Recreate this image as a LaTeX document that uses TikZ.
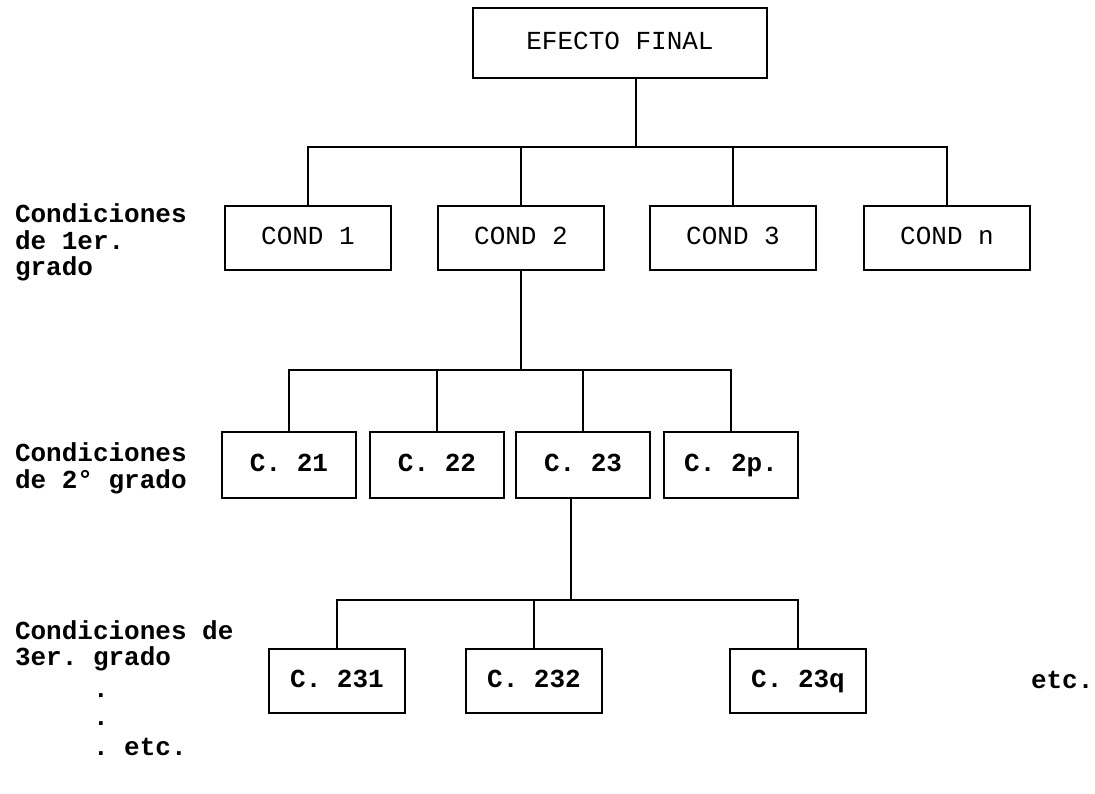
\documentclass[tikz,border=0pt]{standalone}
\usepackage{fontspec}
\setmonofont{Liberation Mono}
\begin{document}
\begin{tikzpicture}[x=0.75pt,y=-0.75pt,
  line width=1.5pt,
  tt/.style={font=\ttfamily\fontsize{19.5}{23}\selectfont},
  ttb/.style={font=\ttfamily\bfseries\fontsize{19.5}{23}\selectfont},
  box/.style={draw, line width=1.5pt, inner sep=0pt, align=center, text height=11pt, text depth=1.5pt},
  topbox/.style={box, tt, minimum width=221pt, minimum height=52.5pt},
  lvone/.style={box, tt, minimum width=124.5pt, minimum height=48pt},
  lvtwo/.style={box, ttb, minimum width=101pt, minimum height=49.5pt},
  lvthree/.style={box, ttb, minimum width=102pt, minimum height=48pt},
  lbl/.style={ttb, inner sep=0pt, anchor=base west}
]
\useasboundingbox (0,0) rectangle (1095,793);

% top
\node[topbox] (ef) at (620,43) {EFECTO FINAL};

% level 1
\node[lvone] (c1) at (308,238) {COND 1};
\node[lvone] (c2) at (521,238) {COND 2};
\node[lvone] (c3) at (733,238) {COND 3};
\node[lvone] (cn) at (947,238) {COND n};

\coordinate (j1) at (636,147);
\draw (j1 |- ef.south) -- (j1);
\draw (c1.north) |- (j1) -| (cn.north);
\draw (c2.north) -- (c2.north |- j1);
\draw (c3.north) -- (c3.north |- j1);

% level 2
\node[lvtwo] (d1) at (289,465) {C. 21};
\node[lvtwo] (d2) at (437,465) {C. 22};
\node[lvtwo] (d3) at (583,465) {C. 23};
\node[lvtwo] (dp) at (731,465) {C. 2p.};

\coordinate (j2) at (521,370);
\draw (c2.south) -- (j2);
\draw (d1.north) |- (j2) -| (dp.north);
\draw (d2.north) -- (d2.north |- j2);
\draw (d3.north) -- (d3.north |- j2);

% level 3
\node[lvthree] (e1) at (337,681) {C. 231};
\node[lvthree] (e2) at (534,681) {C. 232};
\node[lvthree] (eq) at (798,681) {C. 23q};

\coordinate (j3) at (571,600);
\draw (j3 |- d3.south) -- (j3);
\draw (e1.north) |- (j3) -| (eq.north);
\draw (e2.north) -- (e2.north |- j3);

\node[lbl] (etcr) at (1030,688) {etc.};

% left labels
\node[lbl] (l1a) at (14,222) {Condiciones};
\node[lbl] (l1b) at (14,249) {de 1er.};
\node[lbl] (l1c) at (14,275) {grado};

\node[lbl] (l2a) at (14,461) {Condiciones};
\node[lbl] (l2b) at (14,488) {de 2° grado};

\node[lbl] (l3a) at (14,639) {Condiciones de};
\node[lbl] (l3b) at (14,665) {3er. grado};
\node[lbl] (l3c) at (92,697) {.};
\node[lbl] (l3d) at (92,725) {.};
\node[lbl] (l3e) at (92,755) {. etc.};
\end{tikzpicture}
\end{document}
